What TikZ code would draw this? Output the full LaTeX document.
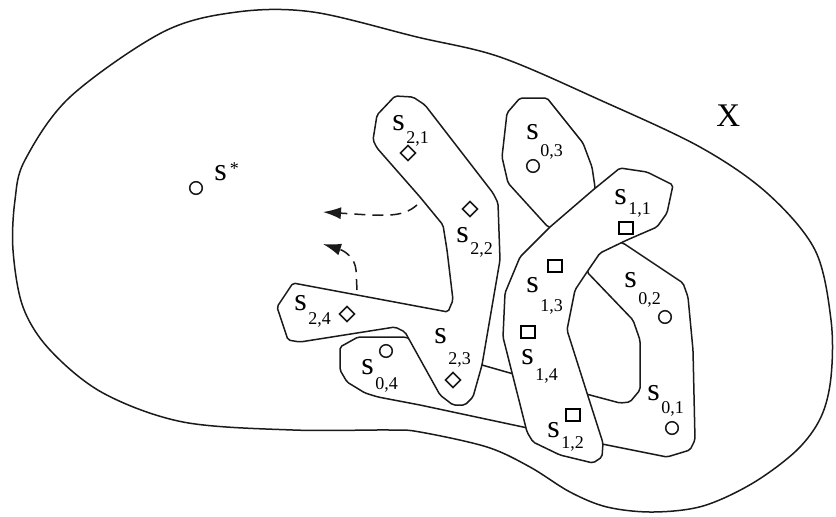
\documentclass[tikz,border=0pt]{standalone}
\usepackage{fontspec}
\setmainfont{Liberation Serif}
\usetikzlibrary{arrows.meta,shapes.geometric}
\definecolor{inkline}{HTML}{1A1A1A}
\tikzset{
    spaceline/.style={draw=inkline, line width=0.75pt},
    setline/.style={draw=inkline, fill=white, line width=0.75pt, rounded corners=1pt},
    ptcircle/.style={circle, draw=inkline, line width=0.75pt, minimum size=6.3pt, inner sep=0pt},
    ptsquare/.style={rectangle, draw=black, line width=1.05pt, minimum width=6.8pt, minimum height=6pt, inner sep=0pt},
    ptdiamond/.style={diamond, draw=inkline, line width=0.8pt, minimum size=7.8pt, inner sep=0pt},
    slabel/.style={anchor=base west, inner sep=0pt, font=\fontsize{16}{16}\selectfont},
    searcharrow/.style={-{Latex[length=9pt,width=6pt]}, dash pattern=on 5.5pt off 3.5pt, line width=0.75pt, draw=inkline},
}
\newcommand\sidx[2][6.5pt]{\kern0.8pt\raisebox{-#1}{\fontsize{9}{9}\selectfont #2}}

\begin{document}
\begin{tikzpicture}[x=0.5pt, y=-0.5pt]
    \useasboundingbox (0,0) rectangle (836,516);
    % the space X
    \draw[spaceline] plot[smooth cycle, tension=0.55] coordinates {
        (237,12) (313,12) (417,37) (500,57) (600,100) (700,147) (767,193)
        (815,250) (831,320) (831,377) (821,417) (797,450) (753,483) (703,506)
        (653,512) (607,507) (570,492) (530,467) (487,447) (420,432) (390,430)
        (293,430) (183,422) (103,393) (50,350) (23,307) (13,250) (15,200)
        (25,160) (70,97) (163,32)};
    \node[slabel, font=\fontsize{16.5}{16.5}\selectfont] (X) at (716,126) {X};
    % set S0 (partly hidden below S1 and S2)
    \draw[setline] (520,98) -- (547,98) -- (583,143) -- (592,167) -- (595,187)
        -- (595,230) -- (587,272) -- (633,320) -- (640,340) -- (640,390)
        -- (630,402) -- (620,403) -- (590,395) -- (510,373) -- (482,365)
        -- (405,337) -- (358,337) -- (340,347) -- (340,370) -- (347,382)
        -- (365,393) -- (378,397) -- (420,405) -- (523,427) -- (607,445)
        -- (667,457) -- (690,450) -- (695,440) -- (693,350) -- (688,297)
        -- (683,283) -- (623,243) -- (548,227) -- (508,183) -- (502,157)
        -- (507,113) -- cycle;
    % set S2
    \draw[setline] (395,96) -- (413,97) -- (425,105) -- (493,193) -- (498,203)
        -- (500,260) -- (482,365) -- (473,397) -- (465,405) -- (453,405)
        -- (440,395) -- (405,332) -- (395,327) -- (300,342) -- (288,340)
        -- (277,307) -- (293,283) -- (448,312) -- (453,300) -- (447,250)
        -- (443,225) -- (420,197) -- (377,148) -- (373,140) -- (377,115) -- cycle;
    % set S1
    \draw[setline] (520,257) -- (505,293) -- (503,337) -- (527,432) -- (533,442)
        -- (560,455) -- (593,463) -- (602,457) -- (603,443) -- (587,393)
        -- (567,330) -- (575,290) -- (587,272) -- (600,253) -- (627,240)
        -- (657,227) -- (667,213) -- (673,185) -- (647,172) -- (620,168)
        -- (593,190) -- (550,227) -- cycle;
    % points
    \node[ptcircle] (pstar) at (196,188) {};
    \node[ptcircle] (p01) at (672,428) {};
    \node[ptcircle] (p02) at (665,317) {};
    \node[ptcircle] (p03) at (533,166) {};
    \node[ptcircle] (p04) at (386,351) {};
    \node[ptsquare] (p11) at (626,228) {};
    \node[ptsquare] (p12) at (573,415) {};
    \node[ptsquare] (p13) at (555,266) {};
    \node[ptsquare] (p14) at (528,332) {};
    \node[ptdiamond] (p21) at (408,153) {};
    \node[ptdiamond] (p22) at (470,209) {};
    \node[ptdiamond] (p23) at (453,380) {};
    \node[ptdiamond] (p24) at (347,314) {};
    % labels
    \node[slabel] (lstar) at (214,180) {s\kern1.5pt\raisebox{3pt}{\fontsize{9}{9}\selectfont *}};
    \node[slabel] (l01) at (647,400) {s\sidx[6.5pt]{0,1}};
    \node[slabel] (l02) at (624,287) {s\sidx[8.5pt]{0,2}};
    \node[slabel] (l03) at (526,139) {s\sidx[8.5pt]{0,3}};
    \node[slabel] (l04) at (361,374) {s\sidx[7.5pt]{0,4}};
    \node[slabel] (l11) at (614,204) {s\sidx[5pt]{1,1}};
    \node[slabel] (l12) at (547,437) {s\sidx[5.5pt]{1,2}};
    \node[slabel] (l13) at (526,292) {s\sidx[9.5pt]{1,3}};
    \node[slabel] (l14) at (521,364) {s\sidx[8pt]{1,4}};
    \node[slabel] (l21) at (392,130) {s\sidx[6.5pt]{2,1}};
    \node[slabel] (l22) at (456,242) {s\sidx[6pt]{2,2}};
    \node[slabel] (l23) at (434,343) {s\sidx[10.5pt]{2,3}};
    \node[slabel] (l24) at (294,310) {s\sidx[7pt]{2,4}};
    % moves towards s*
    \coordinate (a1s) at (417,205);
    \coordinate (a1e) at (323,212);
    \coordinate (a2s) at (357,290);
    \coordinate (a2e) at (323,244);
    \draw[searcharrow] (a1s) .. controls (402,218) and (385,216) .. (a1e);
    \draw[searcharrow] (a2s) -- (356,270) .. controls (355,258) and (345,251) .. (a2e);
\end{tikzpicture}
\end{document}
